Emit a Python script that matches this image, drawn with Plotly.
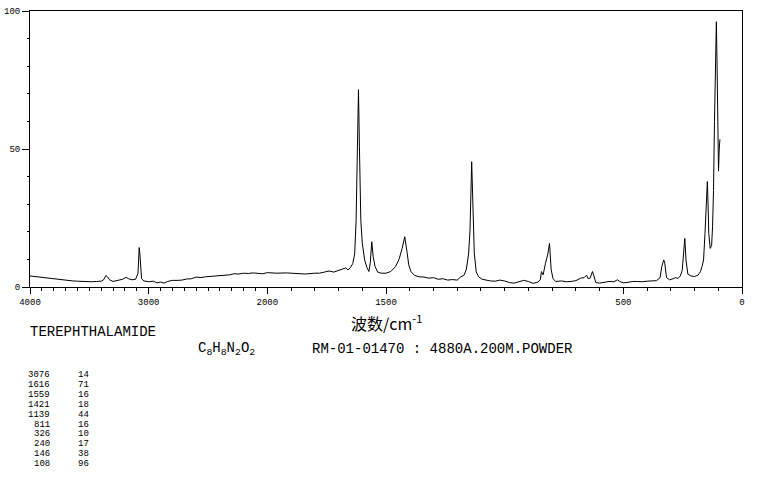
import plotly.graph_objects as go

# ---- data (Raman spectrum, terephthalamide) ----
WAVENUMBER = [
    4000, 3960, 3920, 3880, 3840, 3800, 3760, 3720, 3680, 3640, 3600, 3560, 3520, 3480,
    3440, 3400, 3380, 3360, 3345, 3330, 3300, 3260, 3220, 3190, 3170, 3140, 3110, 3090,
    3080, 3074, 3068, 3060, 3040, 3000, 2960, 2930, 2900, 2870, 2840, 2800, 2760, 2720,
    2680, 2640, 2600, 2560, 2520, 2480, 2440, 2400, 2360, 2320, 2280, 2240, 2200, 2160,
    2120, 2080, 2040, 2000,
    1960, 1920, 1880, 1840, 1800, 1780, 1760, 1740, 1720, 1700, 1680, 1670, 1660, 1650,
    1640, 1632, 1626, 1620, 1616, 1612, 1606, 1600, 1590, 1580, 1572, 1566, 1560, 1554,
    1546, 1535, 1520, 1500, 1480, 1460, 1445, 1432, 1421, 1412, 1404, 1395, 1380, 1360,
    1340, 1320, 1300, 1280, 1260, 1240, 1220, 1200, 1185, 1172, 1162, 1152, 1146, 1139,
    1134, 1128, 1120, 1110, 1095, 1080, 1060, 1040, 1020, 1000, 980, 960, 940, 920,
    900, 880, 860, 850, 845, 838, 828, 818, 811, 804, 796, 785, 760, 740,
    720, 700, 680, 665, 655, 648, 640, 630, 624, 616, 600, 580, 560, 540,
    525, 515, 500, 480, 460, 440, 420, 400, 380, 360, 345, 338, 330, 326,
    318, 305, 290, 280, 270, 260, 252, 246, 241, 236, 228, 215, 200, 185,
    175, 168, 162, 156, 150, 146, 143, 140, 134, 128, 124, 120, 116, 112,
    108, 105, 102, 99, 96, 93,
]
INTENSITY = [
    4.0, 3.8, 3.5, 3.3, 3.0, 2.9, 2.6, 2.5, 2.3, 2.2, 2.1, 2.0, 2.0, 1.9,
    2.0, 2.1, 2.6, 4.2, 3.6, 2.6, 2.0, 2.3, 2.8, 3.5, 3.0, 2.6, 2.8, 5.0,
    14.3, 12.0, 6.5, 3.0, 2.2, 1.9, 2.1, 1.5, 1.8, 1.4, 2.0, 2.4, 2.4, 2.5,
    2.9, 3.0, 3.6, 3.4, 3.7, 3.8, 4.0, 4.2, 4.3, 4.4, 4.8, 4.7, 5.0, 4.9,
    5.1, 5.0, 4.8, 5.2,
    5.0, 5.1, 5.0, 4.7, 5.0, 5.0, 5.4, 5.8, 5.4, 6.0, 6.4, 6.9, 6.2, 7.0,
    8.5, 12.0, 24.0, 50.0, 71.5, 51.0, 24.0, 16.0, 9.8, 7.0, 5.6, 9.0, 16.4, 11.0,
    7.4, 5.4, 5.0, 5.0, 5.6, 7.4, 10.0, 14.0, 18.2, 13.0, 8.0, 5.6, 4.2, 3.7,
    3.6, 3.2, 3.4, 2.8, 3.0, 2.5, 2.7, 2.5, 3.7, 4.2, 6.2, 12.0, 20.6, 45.4,
    28.0, 12.3, 5.5, 3.7, 2.8, 2.5, 2.2, 2.1, 2.5, 2.2, 1.6, 1.4, 1.9, 2.4,
    2.0, 1.3, 1.8, 2.6, 5.6, 4.4, 8.6, 12.0, 15.8, 6.2, 3.0, 2.0, 2.2, 1.9,
    2.0, 2.3, 3.2, 3.4, 4.3, 3.0, 3.2, 5.6, 4.0, 1.6, 1.4, 1.6, 2.0, 1.9,
    2.6, 2.0, 1.5, 1.7, 2.0, 2.0, 1.9, 2.1, 2.2, 2.3, 3.4, 7.4, 9.8, 9.0,
    3.4, 2.6, 3.0, 3.4, 3.1, 4.0, 6.0, 13.4, 17.6, 9.8, 4.6, 4.0, 3.8, 4.3,
    5.6, 7.5, 9.8, 19.4, 30.0, 38.2, 30.0, 19.4, 14.0, 15.0, 22.0, 35.0, 60.0, 80.0,
    96.1, 80.0, 60.0, 42.0, 50.0, 53.5,
]

X_TICK_VALUES = [4000, 3000, 2000, 1500, 500, 0]
X_TICK_LABELS = ["4000", "3000", "2000", "1500", "500", "0"]
Y_TICK_VALUES = [0, 50, 100]
Y_TICK_LABELS = ["0", "50", "100"]

PEAK_WN = ["3076", "1616", "1559", "1421", "1139", "811", "326", "240", "146", "108"]
PEAK_INT = ["14", "71", "16", "18", "44", "16", "10", "17", "38", "96"]

COMPOUND = "TEREPHTHALAMIDE"
FORMULA = "C<sub>8</sub>H<sub>8</sub>N<sub>2</sub>O<sub>2</sub>"
SAMPLE_INFO = "RM-01-01470 : 4880A.200M.POWDER"
X_TITLE = "波数/cm<sup>-1</sup>"


def axis_pos(w):
    """Chart axis: 4000-2000 cm-1 drawn at half the scale of 2000-0 cm-1."""
    if w >= 2000:
        return (4000 - w) / 2.0
    return 1000 + (2000 - w)


W, H = 765, 478
# plot box in page pixels: x 30..742, y 11..287
ML, MR, MT, MB = 30, 765 - 742, 11, 478 - 287
PW, PH = W - ML - MR, H - MT - MB


def px(x):
    """page x pixel -> paper fraction"""
    return (x - ML) / PW


def py(y):
    """page y pixel -> paper fraction"""
    return (H - MB - y) / PH


mono = "Liberation Mono"

fig = go.Figure()
fig.add_trace(go.Scatter(
    x=[axis_pos(w) for w in WAVENUMBER],
    y=INTENSITY,
    mode="lines",
    line=dict(color="black", width=1),
    hoverinfo="skip",
    showlegend=False,
))

minor_x = [axis_pos(w) for w in range(4000, -1, -100)]

fig.update_layout(
    width=W, height=H,
    margin=dict(l=ML, r=MR, t=MT, b=MB, pad=0, autoexpand=False),
    paper_bgcolor="white", plot_bgcolor="white",
    showlegend=False,
    font=dict(family=mono, size=9, color="black"),
    xaxis=dict(
        range=[0, 3000],
        automargin=False,
        ticklabeloverflow="allow",
        tickmode="array",
        tickvals=[axis_pos(w) for w in X_TICK_VALUES],
        ticktext=X_TICK_LABELS,
        ticks="outside", ticklen=6, tickwidth=1, tickcolor="black",
        minor=dict(tickmode="array", tickvals=minor_x, ticks="outside",
                   ticklen=3, tickwidth=1, tickcolor="black", showgrid=False),
        showgrid=False, zeroline=False,
        showline=True, linecolor="black", linewidth=1, mirror=True,
        tickfont=dict(family=mono, size=9, color="black"),
        fixedrange=True,
    ),
    yaxis=dict(
        range=[0, 100],
        automargin=False,
        ticklabeloverflow="allow",
        tickmode="array",
        tickvals=Y_TICK_VALUES,
        ticktext=Y_TICK_LABELS,
        ticks="outside", ticklen=7, tickwidth=1, tickcolor="black",
        minor=dict(tickmode="array", tickvals=list(range(0, 101, 10)), ticks="outside",
                   ticklen=2, tickwidth=1, tickcolor="black", showgrid=False),
        showgrid=False, zeroline=False,
        showline=True, linecolor="black", linewidth=1, mirror=True,
        tickfont=dict(family=mono, size=9, color="black"),
        fixedrange=True,
    ),
)

ann = []
ann.append(dict(text=X_TITLE, x=px(386), y=py(322), xref="paper", yref="paper",
                xanchor="center", yanchor="middle", showarrow=False,
                font=dict(family="Noto Sans CJK SC", size=16, color="black")))
ann.append(dict(text=COMPOUND, x=px(28), y=py(332), xref="paper", yref="paper",
                xanchor="left", yanchor="middle", showarrow=False,
                font=dict(family=mono, size=14, color="black")))
ann.append(dict(text=FORMULA, x=px(196), y=py(349), xref="paper", yref="paper",
                xanchor="left", yanchor="middle", showarrow=False,
                font=dict(family=mono, size=14, color="black")))
ann.append(dict(text=SAMPLE_INFO, x=px(310), y=py(349), xref="paper", yref="paper",
                xanchor="left", yanchor="middle", showarrow=False,
                font=dict(family=mono, size=14, color="black")))
for i, (wn, it) in enumerate(zip(PEAK_WN, PEAK_INT)):
    yy = py(375 + 9.9 * i)
    ann.append(dict(text=wn, x=px(52), y=yy, xref="paper", yref="paper",
                    xanchor="right", yanchor="middle", showarrow=False,
                    font=dict(family=mono, size=9, color="black")))
    ann.append(dict(text=it, x=px(76), y=yy, xref="paper", yref="paper",
                    xanchor="left", yanchor="middle", showarrow=False,
                    font=dict(family=mono, size=9, color="black")))
fig.update_layout(annotations=ann)

# place the figure at the page origin (remove the default body margin)
fig.write_html("out.html",
               config={"displayModeBar": False, "staticPlot": True},
               post_script="document.body.style.margin='0';"
                           "document.body.style.overflow='hidden';")
